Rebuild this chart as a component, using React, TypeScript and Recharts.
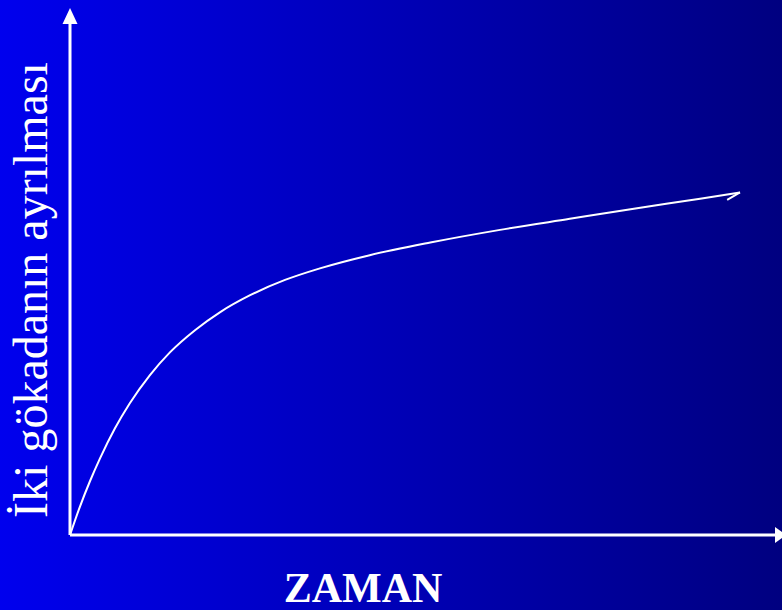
import React from 'react';
import { LineChart, Line, XAxis, YAxis, ReferenceLine } from 'recharts';

const time = [0, 1.4, 2.8, 4.2, 6.3, 8.4, 11.2, 14.0, 17.6, 21.1, 25.3, 30.2, 35.1, 42.1, 50.6, 60.4, 70.2, 80.1, 88.5, 94.1];
const separation = [0, 5.4, 10.2, 14.5, 20.2, 25.0, 30.3, 34.6, 38.9, 42.3, 45.5, 48.4, 50.6, 53.1, 55.5, 57.9, 60.0, 62.1, 63.8, 65.0];
// little hook at the end of the hand-drawn line
const hookTime = [94.1, 93.2, 92.3];
const hookSeparation = [65.0, 64.3, 63.6];

const yLabel = 'İki gökadanın ayrılması';
const xLabel = 'ZAMAN';

const curve = time.map((t, i) => ({ t, s: separation[i] }));
const hook = hookTime.map((t, i) => ({ t, s: hookSeparation[i] }));

const W = 782;
const H = 610;
const font = '"Liberation Serif", "Times New Roman", serif';

const Arrow = (props: any) => {
  const { x1, y1, x2, y2 } = props;
  const vertical = Math.abs(x1 - x2) < 1;
  const head = vertical
    ? `${x2},${y2} ${x2 - 7.5},${y2 + 16} ${x2 + 7.5},${y2 + 16}`
    : `${x2 + 4},${y2} ${x2 - 7},${y2 - 8} ${x2 - 7},${y2 + 8}`;
  return (
    <g>
      <line
        x1={x1}
        y1={y1}
        x2={vertical ? x2 : x2 - 6}
        y2={vertical ? y2 + 14 : y2}
        stroke="#fff"
        strokeWidth={3}
      />
      <polygon points={head} fill="#fff" />
    </g>
  );
};

export default function App() {
  return (
    <div
      style={{
        position: 'absolute',
        left: 0,
        top: 0,
        width: W,
        height: H,
        background: 'linear-gradient(to right, #0000ee, #000080)',
      }}
    >
      <LineChart width={W} height={H} margin={{ top: 8, right: 0, bottom: 75, left: 70 }}>
        <XAxis type="number" dataKey="t" domain={[0, 100]} hide allowDataOverflow />
        <YAxis type="number" dataKey="s" domain={[0, 100]} hide allowDataOverflow />
        <ReferenceLine segment={[{ x: 0, y: 0 }, { x: 0, y: 100 }]} shape={Arrow} ifOverflow="visible" />
        <ReferenceLine segment={[{ x: 0, y: 0 }, { x: 100, y: 0 }]} shape={Arrow} ifOverflow="visible" />
        <Line
          data={curve}
          dataKey="s"
          type="monotone"
          stroke="#fff"
          strokeWidth={2}
          dot={false}
          isAnimationActive={false}
        />
        <Line
          data={hook}
          dataKey="s"
          type="linear"
          stroke="#fff"
          strokeWidth={2}
          dot={false}
          isAnimationActive={false}
        />
        <text
          x={47}
          y={290}
          transform="rotate(-90, 47, 290)"
          textAnchor="middle"
          fill="#fff"
          fontFamily={font}
          fontSize={48}
        >
          {yLabel}
        </text>
        <text x={363} y={602} textAnchor="middle" fill="#fff" fontFamily={font} fontSize={42} fontWeight="bold">
          {xLabel}
        </text>
      </LineChart>
    </div>
  );
}
